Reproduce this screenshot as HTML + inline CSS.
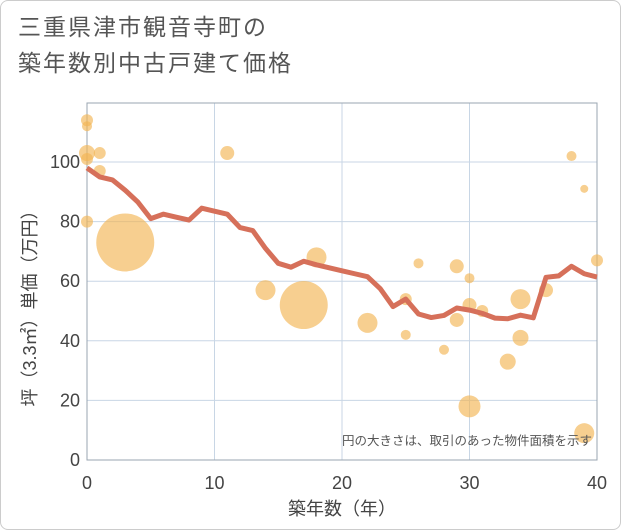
<!DOCTYPE html>
<html><head><meta charset="utf-8"><style>
body{margin:0;background:#fff;}
#w{width:619px;height:528px;border:1px solid #ccc;border-radius:8px;position:relative;overflow:hidden;font-family:"Liberation Sans","Noto Sans CJK JP",sans-serif;}
h1{position:absolute;left:17px;top:8px;margin:0;font-weight:normal;font-size:23px;letter-spacing:2px;line-height:36px;color:#555;}
</style></head><body>
<div id="w">
<h1>三重県津市観音寺町の<br>築年数別中古戸建て価格</h1>
<svg id="s" width="621" height="530" style="position:absolute;left:-1px;top:-1px"></svg>
</div>
<script>
const xTicks=[0,10,20,30,40];
const yTicks=[0,20,40,60,80,100];
const bubX=[0,0,0,0,1,1,0,3,11,14,17,18,22,25,25,26,28,29,29,30,30,30,31,33,34,34,36,38,39,39,40];
const bubY=[114,112,103,101,103,97,80,73,103,57,52,68,46,54,42,66,37,65,47,61,52,18,50,33,54,41,57,102,91,9,67];
const bubR=[6,5,8,6,6,6,6,29,7,10,24,10,10,6,5,5,5,7,7,5,7,11,6,8,10,8,7,5,4,10,6];
const lineX=[0,1,2,3,4,5,6,7,8,9,10,11,12,13,14,15,16,17,18,19,20,21,22,23,24,25,26,27,28,29,30,31,32,33,34,35,36,37,38,39,40];
const lineY=[98,95,94,90.5,86.5,81,82.5,81.5,80.5,84.5,83.5,82.5,78,77,71,66,64.7,66.7,65.5,64.5,63.5,62.5,61.5,57.5,51.5,54,49,47.8,48.5,51,50.3,49.2,47.6,47.4,48.6,47.7,61.3,61.8,65,62.5,61.4];
const L=87,R=597,T=103,B=460;
const sx=v=>L+(R-L)*v/40, sy=v=>B-v*2.98;
const s=document.getElementById('s');const NS='http://www.w3.org/2000/svg';
function mk(t,a,p){const e=document.createElementNS(NS,t);for(const k in a)e.setAttribute(k,a[k]);(p||s).appendChild(e);return e;}
xTicks.forEach(v=>{const l=mk('line',{x1:sx(v),x2:sx(v),y1:T,y2:B,stroke:'#c8d6e5','stroke-width':1});


const t=mk('text',{x:sx(v),y:489,'text-anchor':'middle','font-size':18,fill:'#444'});t.textContent=v;

});
yTicks.forEach(v=>{const l=mk('line',{x1:L,x2:R,y1:sy(v),y2:sy(v),stroke:'#c8d6e5','stroke-width':1});


const t=mk('text',{x:80,y:sy(v)+6,'text-anchor':'end','font-size':18,fill:'#444'});t.textContent=v;

});
const fr=mk('rect',{x:L,y:T,width:R-L,height:B-T,fill:'none',stroke:'#9aa5b1','stroke-width':1});


bubX.forEach((v,i)=>{const c=mk('circle',{cx:sx(v),cy:sy(bubY[i]),r:bubR[i],fill:'#f2b655','fill-opacity':0.65});

});
const pl=mk('polyline',{points:lineX.map((v,i)=>sx(v)+','+sy(lineY[i])).join(' '),fill:'none',stroke:'#d6705a','stroke-width':5,'stroke-linejoin':'round'});


const n=mk('text',{x:592,y:445,'text-anchor':'end','font-size':12.5,fill:'#555'});n.textContent='円の大きさは、取引のあった物件面積を示す';


const xt=mk('text',{x:342,y:515,'text-anchor':'middle','font-size':18,fill:'#444'});xt.textContent='築年数（年）';


const yt=mk('text',{x:0,y:0,'text-anchor':'middle','font-size':18,fill:'#444',transform:'translate(36,304) rotate(-90)'});yt.textContent='坪（3.3㎡）単価（万円）';


</script>
</body></html>
